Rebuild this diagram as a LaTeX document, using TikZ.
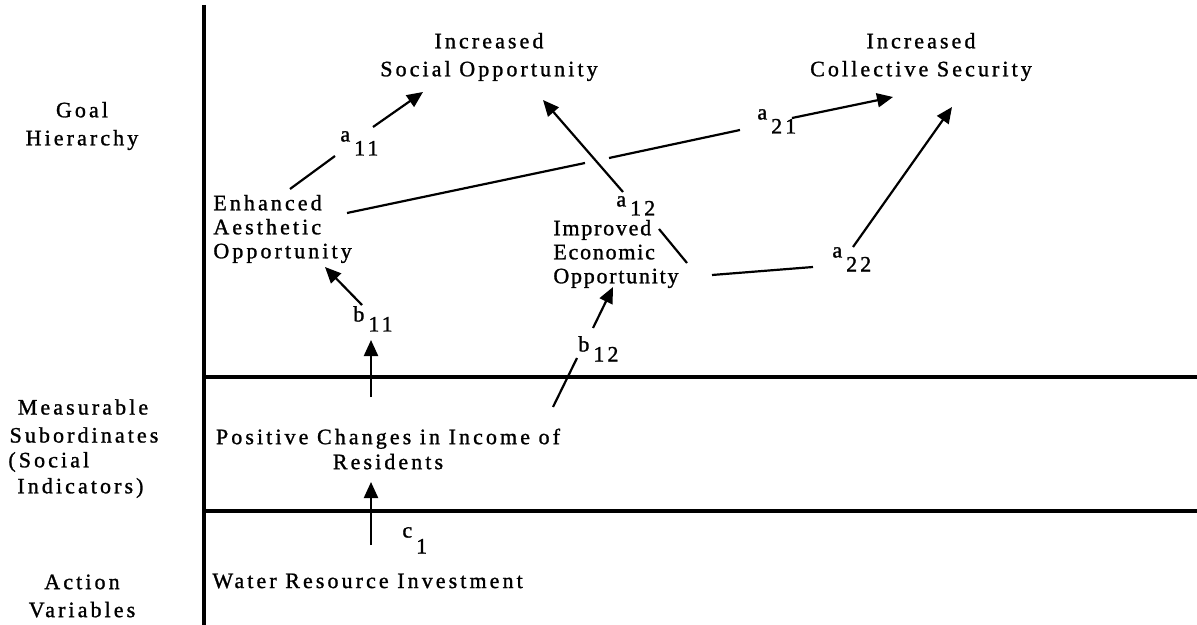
\documentclass[tikz,border=0pt]{standalone}
\usepackage{fontspec}
\setmainfont{Liberation Serif}[LetterSpace=14, FakeBold=1.2]
\usetikzlibrary{arrows.meta}
\newcommand\coefl[3]{#1\kern2pt\raisebox{-#3}{#2}}
\begin{document}
\begin{tikzpicture}[x=0.5pt,y=-0.5pt,
  every node/.style={inner sep=0pt, font=\fontsize{11}{14}\selectfont},
  txt/.style={align=center},
  txtl/.style={align=left, anchor=west, font=\fontsize{11}{12}\selectfont},
  rule/.style={line width=1.6pt},
  link/.style={line width=1.1pt},
  arr/.style={link, -{Triangle[length=8pt,width=7pt]}},
  lab/.style={anchor=base west}]
\useasboundingbox (0,0) rectangle (1197,625);

% level dividers
\draw[rule] (204,5) -- (204,625);
\draw[rule] (204,377) -- (1197,377);
\draw[rule] (204,511) -- (1197,511);

% level names
\node[txt] (goal) at (82,126) {Goal\\Hierarchy};
\node (meas) at (83,407) {Measurable};
\node (subd) at (84,435) {Subordinates};
\node[anchor=west] (socl) at (8,462) {(Social};
\node[anchor=west] (indi) at (17,488) {Indicators)};
\node[txt] (act) at (82,596) {Action\\Variables};

% goals and indicators
\node[txt] (soc) at (489,57) {Increased\\Social Opportunity};
\node[txt] (sec) at (921,57) {Increased\\Collective Security};
\node[txtl] (enh) at (213,229) {Enhanced\\Aesthetic\\Opportunity};
\node[txtl, font=\fontsize{11}{12}\selectfont\addfontfeature{LetterSpace=8}] (imp) at (553,254) {Improved\\Economic\\Opportunity};
\node[txt, font=\fontsize{11}{12.5}\selectfont] (inc) at (388,449) {Positive Changes in Income of\\Residents};
\node[anchor=west] (wri) at (212,581) {Water Resource Investment};

% coefficients
\node[lab] (a11) at (340,141.5) {\coefl{a}{11}{7pt}};
\node[lab] (a12) at (616,206.5) {\coefl{a}{12}{4.5pt}};
\node[lab] (a21) at (757,119.5) {\coefl{a}{21}{7pt}};
\node[lab] (a22) at (832,257.5) {\coefl{a}{22}{7pt}};
\node[lab] (b11) at (353,321.5) {\coefl{b}{11}{5pt}};
\node[lab] (b12) at (578,351.5) {\coefl{b}{12}{5pt}};
\node[lab] (c1) at (402,537.5) {\coefl{c}{1}{8pt}};

% connector ends
\coordinate (enh-a11) at (290,189);
\coordinate (a11-in) at (335,156);
\coordinate (a11-out) at (373,127);
\coordinate (soc-a11) at (423,92);
\coordinate (enh-a21) at (347,213);
\coordinate (a21-gap1) at (585,163);
\coordinate (a21-gap2) at (609,158);
\coordinate (a21-in) at (740,130);
\coordinate (a21-out) at (792,118);
\coordinate (sec-a21) at (893,97);
\coordinate (a12-out) at (623,192);
\coordinate (soc-a12) at (543,100);
\coordinate (a12-in) at (659,229);
\coordinate (imp-a12) at (687,263);
\coordinate (imp-a22) at (712,275);
\coordinate (a22-in) at (813,267);
\coordinate (a22-out) at (853,247);
\coordinate (sec-a22) at (952,107);
\coordinate (b11-out) at (362,305);
\coordinate (enh-b11) at (325,267);
\coordinate (inc-b11) at (371,397);
\coordinate (b11-in) at (371,340);
\coordinate (inc-b12) at (553,407);
\coordinate (b12-in) at (577,358);
\coordinate (b12-out) at (593,328);
\coordinate (imp-b12) at (613,287);
\coordinate (wri-c1) at (371,545);
\coordinate (inc-c1) at (371,482);

% connectors
\draw[link] (enh-a11) -- (a11-in);
\draw[arr] (a11-out) -- (soc-a11);
\draw[link] (enh-a21) -- (a21-gap1);
\draw[link] (a21-gap2) -- (a21-in);
\draw[arr] (a21-out) -- (sec-a21);
\draw[link] (imp-a12) -- (a12-in);
\draw[arr] (a12-out) -- (soc-a12);
\draw[link] (imp-a22) -- (a22-in);
\draw[arr] (a22-out) -- (sec-a22);
\draw[arr] (b11-out) -- (enh-b11);
\draw[arr] (inc-b11) -- (b11-in);
\draw[link] (inc-b12) -- (b12-in);
\draw[arr] (b12-out) -- (imp-b12);
\draw[arr] (wri-c1) -- (inc-c1);
\end{tikzpicture}
\end{document}
